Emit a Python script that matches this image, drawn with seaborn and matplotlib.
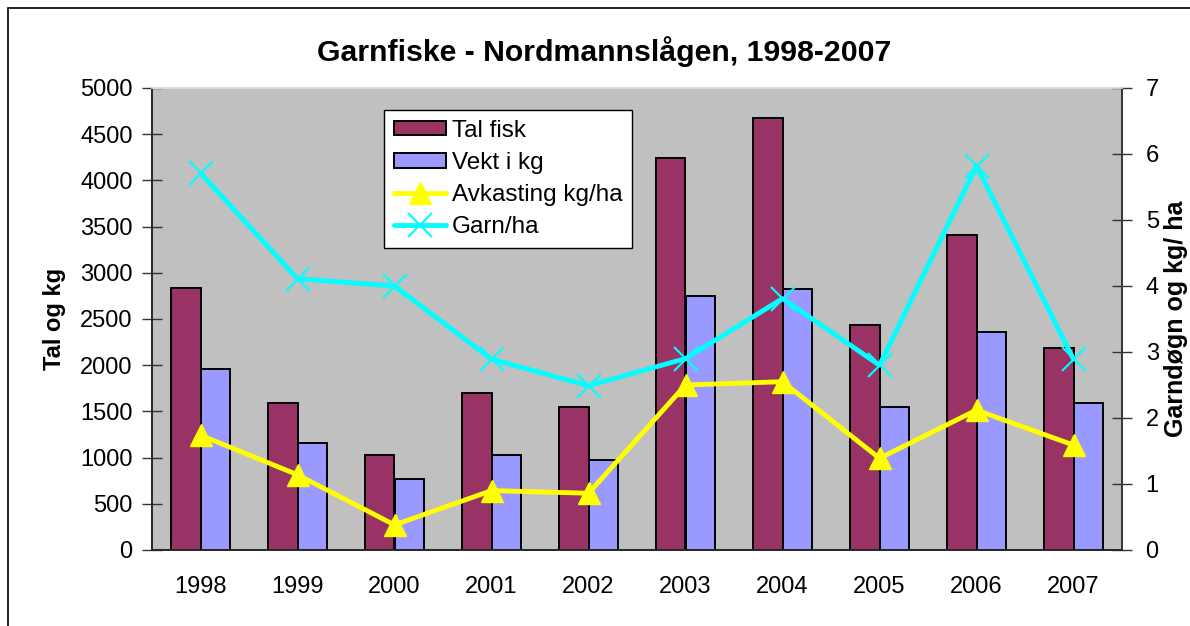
import matplotlib
matplotlib.use("Agg")
import matplotlib.pyplot as plt
import matplotlib.patches as patches
import seaborn as sns
import pandas as pd
import numpy as np

# Data
years = ['1998', '1999', '2000', '2001', '2002', '2003', '2004', '2005', '2006', '2007']
tal_fisk = [2835, 1591, 1028, 1695, 1548, 4240, 4672, 2435, 3409, 2190]
vekt_kg = [1962, 1155, 765, 1028, 970, 2749, 2828, 1548, 2356, 1591]
avkasting = [1.74, 1.14, 0.38, 0.90, 0.86, 2.50, 2.55, 1.39, 2.12, 1.59]
garn_ha = [5.71, 4.11, 4.00, 2.89, 2.49, 2.90, 3.81, 2.80, 5.82, 2.89]

sns.set_theme(style="white")
plt.rcParams['font.family'] = ['Liberation Sans', 'DejaVu Sans']
plt.rcParams.update({'text.color': 'black', 'axes.labelcolor': 'black',
                     'xtick.color': 'black', 'ytick.color': 'black'})

df = pd.DataFrame({
    'Year': years * 2,
    'Value': tal_fisk + vekt_kg,
    'Serie': ['Tal fisk'] * len(years) + ['Vekt i kg'] * len(years),
})

fig = plt.figure(figsize=(11.9, 6.26), dpi=100)
ax = fig.add_axes([152 / 1190, 1 - 550 / 626, (1122 - 152) / 1190, (550 - 88) / 626])
ax.set_facecolor('#C0C0C0')

sns.barplot(data=df, x='Year', y='Value', hue='Serie', order=years,
            palette=['#993366', '#9999FF'], width=0.6, gap=0,
            edgecolor='black', linewidth=1.4, saturation=1, ax=ax)

ax.set_xlim(-0.5, 9.5)
ax.set_ylim(0, 5000)
ax.set_yticks(np.arange(0, 5001, 500))
ax.set_xlabel('')
ax.set_ylabel('Tal og kg', fontsize=17, fontweight='bold', labelpad=10)
ax.set_xticks(np.arange(-0.5, 10, 1), minor=True)
ax.tick_params(axis='x', which='major', length=0, labelsize=17, pad=19)
ax.tick_params(axis='x', which='minor', length=8, width=1, color='#444444', direction='out')
ax.tick_params(axis='y', which='major', length=14, width=1, color='#333333', direction='inout',
               labelsize=17, left=True, pad=7)
for s in ['left', 'bottom', 'right']:
    ax.spines[s].set_color('#333333')
    ax.spines[s].set_linewidth(1.2)
ax.spines['top'].set_color('#DDDDDD')

ax2 = ax.twinx()
x = np.arange(len(years))
ax2.plot(x, avkasting, color='#FFFF00', lw=3.5, marker='^', markersize=16,
         markerfacecolor='#FFFF00', markeredgecolor='#FFFF00', label='Avkasting kg/ha')
ax2.plot(x, garn_ha, color='#00FFFF', lw=3.5, marker='x', markersize=17,
         markeredgewidth=1.5, label='Garn/ha')
ax2.set_ylim(0, 7)
ax2.set_yticks(np.arange(0, 8, 1))
ax2.tick_params(axis='y', length=14, width=1, color='#333333', direction='inout',
                labelsize=17, right=True, pad=10)
ax2.set_ylabel('Garndøgn og kg/ ha', fontsize=18, fontweight='bold', labelpad=4)
ax2.spines['right'].set_color('#333333')
ax2.spines['right'].set_linewidth(1.2)
ax2.spines['top'].set_color('#DDDDDD')
ax2.set_xlim(-0.5, 9.5)

h1, l1 = ax.get_legend_handles_labels()
h2, l2 = ax2.get_legend_handles_labels()
if ax.get_legend():
    ax.get_legend().remove()
leg = ax2.legend(h1 + h2, l1 + l2, loc='upper left',
                 bbox_to_anchor=((384 - 152) / 970, (550 - 110) / 462),
                 frameon=True, fancybox=False, framealpha=1, edgecolor='black',
                 fontsize=17.5, handlelength=2.15, handleheight=0.55, borderpad=0.4,
                 labelspacing=0.42, handletextpad=0.25, borderaxespad=0)
leg.get_frame().set_linewidth(1)

fig.suptitle('Garnfiske - Nordmannslågen, 1998-2007', fontsize=21.8, fontweight='bold',
             x=604.5 / 1190, y=1 - 52 / 626, va='center')

# outer chart border: only left and top edges fall inside the image
fig.patches.append(patches.Rectangle((8 / 1190, -0.05), 1.1, 1 - 8 / 626 + 0.05,
                                     transform=fig.transFigure, fill=False, edgecolor='black', lw=1.2))

fig.savefig('out.png', dpi=100, facecolor='white')
